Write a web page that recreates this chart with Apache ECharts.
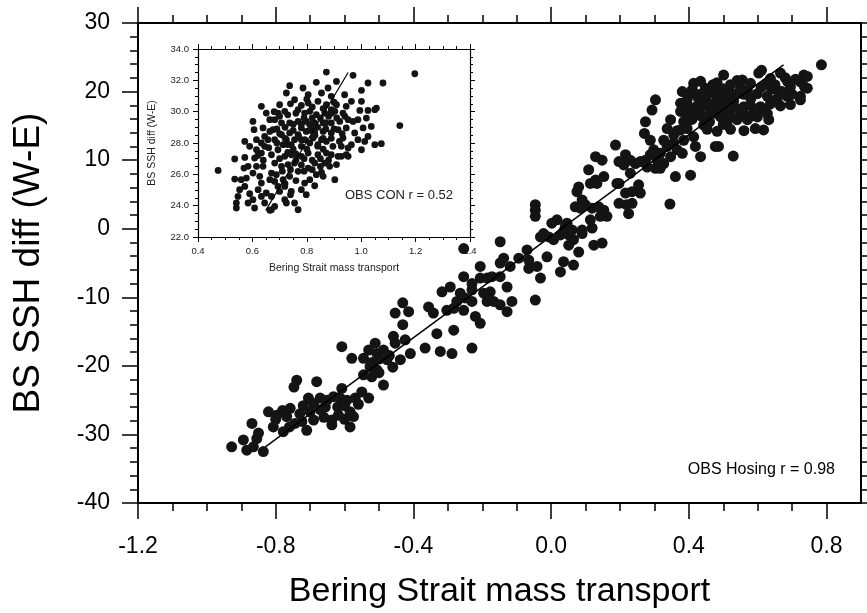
<!DOCTYPE html>
<html><head><meta charset="utf-8">
<script src="https://cdn.jsdelivr.net/npm/echarts@6/dist/echarts.min.js"></script>
<style>html,body{margin:0;padding:0;background:#fff}#c{width:867px;height:613px}</style>
</head><body><div id="c"></div>
<script>
// ---- main panel: OBS Hosing ----
const mainXMajor = [-1.2, -0.8, -0.4, 0.0, 0.4, 0.8];
const mainXMinor = [-1.1, -1.0, -0.9, -0.7, -0.6, -0.5, -0.3, -0.2, -0.1, 0.1, 0.2, 0.3, 0.5, 0.6, 0.7];
const mainXRange = [-1.2, 0.9];
const mainYRange = [-40, 30];
const hosingPoints = [
[-0.928,-31.8],[-0.894,-30.8],[-0.884,-32.3],[-0.865,-31.8],[-0.855,-30.6],[-0.836,-32.5],[-0.869,-28.4],[-0.850,-29.8],[-0.821,-26.7],[-0.807,-28.9],[-0.797,-27.2],[-0.778,-29.6],[-0.758,-26.2],[-0.768,-27.4],[-0.744,-28.4],[-0.724,-28.1],[-0.739,-22.1],[-0.747,-23.1],[-0.710,-29.4],[-0.700,-26.7],[-0.690,-27.9],[-0.705,-24.7],[-0.681,-22.3],[-0.671,-24.7],[-0.651,-25.0],[-0.656,-26.0],[-0.632,-24.5],[-0.637,-27.9],[-0.637,-28.6],[-0.618,-27.2],[-0.613,-24.7],[-0.608,-23.3],[-0.593,-25.0],[-0.584,-28.9],[-0.584,-26.7],[-0.574,-27.4],[-0.569,-24.7],[-0.550,-23.8],[-0.530,-24.7],[-0.487,-22.8],[-0.545,-21.3],[-0.521,-21.6],[-0.506,-20.6],[-0.526,-20.1],[-0.579,-18.9],[-0.608,-17.2],[-0.545,-18.9],[-0.530,-17.7],[-0.511,-16.7],[-0.506,-18.2],[-0.487,-17.7],[-0.477,-19.1],[-0.458,-15.7],[-0.453,-16.7],[-0.438,-19.1],[-0.424,-16.2],[-0.409,-18.2],[-0.366,-17.4],[-0.431,-14.0],[-0.453,-12.3],[-0.414,-12.1],[-0.431,-10.8],[-0.356,-11.4],[-0.342,-12.3],[-0.332,-15.3],[-0.322,-17.9],
[-0.80,-27.8],[-0.78,-26.5],[-0.76,-28.9],[-0.73,-27.0],[-0.72,-25.8],[-0.69,-25.5],[-0.67,-26.4],[-0.66,-27.5],[-0.62,-26.0],[-0.60,-25.8],[-0.56,-25.6],[-0.60,-27.8],[-0.52,-19.5],[-0.50,-21.0],[-0.47,-18.5],[-0.46,-20.2],[-0.50,-19.0],
[-0.254,-2.9],[-0.148,-1.9],[-0.206,-5.5],[-0.254,-7.0],[-0.230,-8.0],[-0.206,-7.2],[-0.186,-7.2],[-0.172,-7.0],[-0.148,-7.0],[-0.138,-4.3],[-0.119,-5.5],[-0.094,-4.3],[-0.070,-3.1],[-0.065,-4.6],[-0.065,-5.8],[-0.041,-5.5],[-0.031,-7.2],[-0.128,-8.5],[-0.177,-9.2],[-0.196,-9.4],[-0.186,-10.6],[-0.167,-10.6],[-0.148,-11.1],[-0.128,-12.1],[-0.114,-10.6],[-0.046,-10.4],[-0.230,-8.9],[-0.250,-10.1],[-0.230,-10.6],[-0.274,-10.6],[-0.264,-9.4],[-0.293,-8.5],[-0.317,-9.2],[-0.283,-11.6],[-0.254,-11.9],[-0.220,-12.8],[-0.206,-13.8],[-0.303,-11.9],[-0.283,-14.8],[-0.230,-17.4],[-0.288,-18.2],[-0.031,-1.2],[-0.022,-0.7],[-0.007,-1.2],[0.007,-1.6],[0.027,-0.9],[0.036,-0.4],[0.051,-0.9],[0.065,-1.6],[0.090,-0.7],[0.017,1.3],[0.041,0.3],[0.046,0.8],[0.061,-0.2],[-0.046,3.5],[-0.046,2.7],[-0.046,1.8],[-0.012,-4.1],[0.036,-4.8],[0.027,-6.3],[0.065,-5.3],[0.080,-3.4],[0.090,-0.2],[0.119,0.1],[0.124,-2.4],[0.148,-2.1],[0.085,3.0],[0.075,5.4],[0.080,6.1],[0.070,3.2],[0.099,3.5],[0.114,6.6],[0.133,6.6],[0.109,8.6],[0.129,10.5],[0.148,10.0],[0.187,12.2],[0.197,9.8],[0.119,3.0],[0.138,3.2],[0.153,2.7],[0.162,1.8],[0.114,1.3],[0.143,1.8],[0.090,4.2],[0.002,0.8],[0.051,-2.4],[-0.148,-5.0],
[0.501,22.4],[0.414,21.2],[0.381,20.0],[0.448,20.5],[0.472,20.0],[0.521,21.0],[0.555,21.7],[0.603,22.7],[0.637,21.9],[0.666,22.7],[0.734,22.4],[0.724,21.4],[0.744,20.5],[0.724,18.8],[0.686,19.3],[0.657,19.0],[0.628,19.3],[0.599,19.7],[0.570,20.2],[0.540,19.7],[0.511,19.0],[0.482,18.8],[0.453,18.5],[0.424,19.3],[0.395,18.8],[0.376,18.3],[0.303,18.8],[0.293,17.3],[0.376,17.1],[0.405,17.3],[0.434,17.6],[0.463,17.3],[0.492,16.3],[0.511,15.6],[0.540,15.9],[0.570,15.9],[0.599,16.3],[0.632,15.9],[0.628,16.8],[0.593,14.6],[0.560,17.8],[0.531,17.8],[0.608,17.8],[0.657,20.2],[0.695,20.7],[0.579,21.2],[0.347,15.9],[0.337,14.6],[0.274,15.6],[0.271,13.9],[0.385,15.6],[0.395,14.6],[0.443,15.1],[0.414,13.4],[0.385,12.9],[0.327,12.9],[0.356,12.5],[0.477,12.0],[0.529,10.6],[0.419,12.0],[0.434,10.5],[0.405,7.8],[0.361,7.6],[0.345,3.6],[0.381,11.0],[0.366,11.5],[0.347,10.5],[0.317,11.0],[0.308,10.0],[0.288,10.8],[0.274,10.0],[0.259,9.8],[0.245,9.5],[0.230,10.0],[0.216,10.8],[0.211,9.3],[0.230,8.1],[0.254,6.4],[0.259,5.2],[0.235,5.4],[0.219,3.5],[0.225,2.2],[0.197,6.6],[0.303,8.8],[0.327,9.5],[0.288,12.9],[0.356,13.7],[0.191,6.6],[0.216,5.2],[0.197,3.7],[0.235,3.7],[0.129,7.1],[0.153,7.6],
[0.434,21.5],[0.482,21.3],[0.540,21.6],[0.628,21.2],[0.686,21.5],[0.395,18.1],[0.424,17.9],[0.453,18.2],[0.482,17.8],[0.501,18.1],[0.579,18.0],[0.637,18.2],[0.666,17.9],[0.695,18.1],[0.395,16.5],[0.424,16.7],[0.453,16.4],[0.482,16.8],[0.521,16.5],[0.560,16.7],[0.579,16.4],[0.405,19.8],[0.434,19.6],[0.463,19.8],[0.492,19.5],[0.521,19.8],[0.560,19.6],[0.366,14.3],[0.453,14.5],[0.482,14.2],[0.521,14.5],[0.560,14.3],[0.617,14.4],[0.298,11.5],[0.337,12.0],[0.279,9.0],[0.317,8.8],[0.376,14.4],[0.405,15.9],[0.439,16.3],
[0.41,20.3],[0.44,19.0],[0.47,21.0],[0.50,20.4],[0.53,18.6],[0.55,20.5],[0.58,19.0],[0.61,20.6],[0.64,20.4],[0.67,20.0],[0.70,19.6],[0.62,17.2],[0.59,17.3],[0.55,17.0],[0.51,17.4],[0.47,17.9],[0.44,18.3],[0.41,16.0],[0.46,15.6],[0.50,15.2],[0.65,21.0],[0.71,21.8],[0.68,22.0],
[0.785,23.9],[0.744,22.2],[0.736,20.7],[0.724,19.3],[0.486,12.0],[0.611,23.1]
];
const hosingFit = [[-0.83, -31.8], [0.675, 23.9]];

// ---- inset panel: OBS CON ----
const insetXRange = [0.4, 1.4];
const insetYRange = [22, 34];
const conPoints = [
[0.474,26.25],[1.197,32.42],[1.142,29.11],[1.080,31.83],[1.025,31.83],[0.970,32.32],[0.872,32.53],[0.909,31.93],[0.835,31.87],[0.737,31.66],[0.786,31.51],[0.878,31.51],[1.001,31.36],[1.056,30.23],[1.050,30.13],[1.025,30.08],[1.074,27.96],[1.050,27.89],[0.952,27.68],[0.952,27.15],[0.915,27.15],[0.903,25.66],[0.854,26.13],[0.860,25.87],[0.829,25.27],[0.798,24.70],[0.768,23.74],[0.755,24.17],[0.670,23.74],[0.664,23.70],[0.608,23.85],[0.541,23.85],[0.541,24.17],[0.547,24.59],[0.584,24.17],[0.590,24.76],[0.572,25.23],[0.535,25.70],[0.569,26.40],[0.535,26.98],[0.572,27.08],[0.608,27.04],[0.615,26.51],[0.621,25.02],[0.651,24.81],[0.670,24.59],[0.719,24.38],[0.694,25.23],[0.719,25.23],[0.743,24.91],[0.572,28.10],[0.590,27.79],[0.606,28.85],[0.602,29.38],[0.639,28.96],[0.645,28.42],[0.645,27.79],[0.633,27.36],[0.639,26.51],[0.670,26.08],[0.664,25.66],[0.688,25.98],[0.713,25.66],[0.737,25.87],[0.700,30.44],[0.694,29.91],[0.719,30.02],[0.725,31.19],[0.755,30.76],[0.768,30.13],[0.805,30.55],[0.811,30.02],[0.841,30.66],[0.872,30.44],[0.890,30.98],[0.939,31.08],[0.964,30.66],[1.001,30.66],[0.995,30.08],[0.988,29.49],[1.007,28.96],[0.970,29.38],[0.976,28.64],[0.988,28.21],[0.933,28.32],[0.927,27.79],[0.890,27.25],[0.866,26.72],[0.829,26.72],[0.805,26.40],[0.768,26.19],[0.755,26.72],[0.731,26.62],[0.707,26.51],[0.682,26.72],[0.670,27.25],[0.694,27.57],[0.719,27.15],[0.743,27.25],[0.780,27.15],[0.805,27.36],[0.841,27.25],[0.872,27.36],[0.896,27.79],[0.872,28.10],[0.841,27.89],[0.811,28.00],[0.780,27.79],[0.743,27.89],[0.713,27.89],[0.682,28.21],[0.676,28.85],[0.707,28.53],[0.737,28.64],[0.768,28.53],[0.798,28.74],[0.829,28.64],[0.860,28.74],[0.890,28.64],[0.915,28.85],[0.945,28.96],[0.952,29.49],[0.921,29.38],[0.890,29.28],[0.860,29.28],[0.829,29.28],[0.798,29.38],[0.768,29.38],[0.737,29.28],[0.707,29.28],[0.682,29.49],[0.792,29.91],[0.835,29.81],[0.866,29.91],[0.903,30.02],[0.933,29.91],[0.909,30.44],[0.945,30.34],[0.780,28.96],[0.817,28.96],[0.854,28.21],[0.823,28.32],[0.792,28.21],[0.755,28.21],[0.725,28.21],[0.657,28.21],[0.664,29.49],[0.651,29.91],[0.633,30.34],[0.805,31.08],[0.854,31.19],[0.890,30.13],[0.664,28.74],[0.615,28.21],[0.633,28.00],[0.615,27.57],[0.584,26.51],[0.602,26.08],[0.627,25.87],[0.633,25.44],[0.682,25.55],[0.700,24.91],[0.682,23.95],[0.725,24.17],[0.602,24.38],[0.553,25.02],[0.559,25.66],[0.578,25.76],[0.633,24.59],[0.645,24.17],[0.792,25.44],[0.780,25.02],[0.811,25.66],[0.835,25.98],[0.884,26.51],[0.909,26.62],[0.927,27.15],[0.945,27.25],[0.964,27.89],[1.013,28.10],[1.025,28.42],[1.019,29.59],[1.037,29.06],[1.001,27.57],
[0.70,29.7],[0.73,29.8],[0.76,29.9],[0.79,29.6],[0.82,29.6],[0.85,29.6],[0.88,29.7],[0.91,29.6],[0.94,29.7],[0.69,28.9],[0.72,29.0],[0.75,28.8],[0.78,29.2],[0.81,28.8],[0.84,29.0],[0.87,28.9],[0.90,28.9],[0.93,28.6],[0.69,28.0],[0.72,28.3],[0.75,27.6],[0.77,28.4],[0.80,27.6],[0.83,28.5],[0.86,27.6],[0.89,28.3],[0.92,28.1],[0.70,27.0],[0.73,27.4],[0.76,26.9],[0.79,27.0],[0.82,26.9],[0.85,27.0],[0.88,26.9],[0.71,26.2],[0.74,26.3],[0.78,26.6],[0.82,26.3],[0.85,26.5],[0.72,25.4],[0.76,25.6],[0.74,24.7],[0.78,30.4],[0.82,30.3],[0.86,30.2],[0.74,30.5],[0.90,30.6],[0.68,30.0],[0.66,27.7],[0.64,26.9],[0.62,27.2],
[0.75,29.2],[0.81,29.2],[0.87,29.3],[0.78,28.2],[0.84,27.8],[0.73,27.9],[0.79,26.2],[0.76,27.3],[0.86,28.3],[0.70,28.6],[0.89,29.9],[0.80,30.8]
];
const conFit = [[0.649, 23.7], [0.952, 32.5]];

const FONT = '"Liberation Sans", Arial, Helvetica, sans-serif';
const INK = '#000';

function axisDef(grid, pos, range, opts) {
  return Object.assign({
    type: 'value', gridIndex: grid, position: pos, min: range[0], max: range[1],
    splitLine: { show: false }, nameMoveOverlap: false,
    axisLine: { show: true, onZero: false, lineStyle: { color: INK, width: 2 } },
    axisTick: { show: true, inside: false, lineStyle: { color: INK, width: 1.5 } },
    axisLabel: { show: false }
  }, opts);
}

const chart = echarts.init(document.getElementById('c'), null, { renderer: 'canvas' });
chart.setOption({
  backgroundColor: '#fff',
  animation: false,
  grid: [
    { left: 138, top: 23, right: 6, bottom: 110, containLabel: false, outerBoundsMode: 'none' },
    { left: 198, top: 49, right: 397, bottom: 376, containLabel: false, outerBoundsMode: 'none',
      show: true, backgroundColor: '#fff', borderWidth: 0 }
  ],
  xAxis: [
    axisDef(0, 'bottom', mainXRange, {
      axisTick: { show: true, length: 16, customValues: mainXMajor, lineStyle: { color: INK, width: 1.5 } },
      axisLabel: { show: true, customValues: mainXMajor, fontSize: 23, fontFamily: FONT, color: INK, margin: 32,
        formatter: v => v.toFixed(1) },
      name: 'Bering Strait mass transport', nameLocation: 'middle', nameGap: 72,
      nameTextStyle: { fontSize: 34, fontFamily: FONT, color: INK }
    }),
    axisDef(0, 'bottom', mainXRange, {
      axisLine: { show: false, onZero: false },
      axisTick: { show: true, length: 8, customValues: mainXMinor, lineStyle: { color: INK, width: 1.5 } }
    }),
    axisDef(0, 'top', mainXRange, {
      axisTick: { show: true, length: 16, customValues: mainXMajor, lineStyle: { color: INK, width: 1.5 } }
    }),
    axisDef(0, 'top', mainXRange, {
      axisLine: { show: false, onZero: false },
      axisTick: { show: true, length: 8, customValues: mainXMinor, lineStyle: { color: INK, width: 1.5 } }
    }),
    axisDef(1, 'bottom', insetXRange, {
      interval: 0.2,
      axisLine: { show: true, onZero: false, lineStyle: { color: INK, width: 1.2 } },
      axisTick: { show: true, length: 5, lineStyle: { color: INK, width: 1 } },
      minorTick: { show: true, splitNumber: 4, length: 3, lineStyle: { color: INK, width: 1 } },
      axisLabel: { show: true, fontSize: 9.5, fontFamily: FONT, color: '#222', margin: 9,
        formatter: v => v.toFixed(1) },
      name: 'Bering Strait mass transport', nameLocation: 'middle', nameGap: 26,
      nameTextStyle: { fontSize: 10.5, fontFamily: FONT, color: '#222' }
    }),
    axisDef(1, 'top', insetXRange, {
      interval: 0.2,
      axisLine: { show: true, onZero: false, lineStyle: { color: INK, width: 1.2 } },
      axisTick: { show: true, length: 5, lineStyle: { color: INK, width: 1 } },
      minorTick: { show: true, splitNumber: 4, length: 3, lineStyle: { color: INK, width: 1 } }
    })
  ],
  yAxis: [
    axisDef(0, 'left', mainYRange, {
      interval: 10,
      axisTick: { show: true, length: 16, lineStyle: { color: INK, width: 1.5 } },
      minorTick: { show: true, splitNumber: 5, length: 8, lineStyle: { color: INK, width: 1.5 } },
      axisLabel: { show: true, fontSize: 23, fontFamily: FONT, color: INK, margin: 28 },
      name: 'BS SSH diff (W-E)', nameLocation: 'middle', nameGap: 91,
      nameTextStyle: { fontSize: 37, fontFamily: FONT, color: INK }
    }),
    axisDef(0, 'right', mainYRange, {
      interval: 10,
      axisTick: { show: true, length: 8, lineStyle: { color: INK, width: 1.5 } },
      minorTick: { show: true, splitNumber: 5, length: 6, lineStyle: { color: INK, width: 1.5 } }
    }),
    axisDef(1, 'left', insetYRange, {
      interval: 2,
      axisLine: { show: true, onZero: false, lineStyle: { color: INK, width: 1.2 } },
      axisTick: { show: true, length: 5, lineStyle: { color: INK, width: 1 } },
      minorTick: { show: true, splitNumber: 4, length: 3, lineStyle: { color: INK, width: 1 } },
      axisLabel: { show: true, fontSize: 9.5, fontFamily: FONT, color: '#222', margin: 9,
        formatter: v => v.toFixed(1) },
      name: 'BS SSH diff (W-E)', nameLocation: 'middle', nameGap: 40,
      nameTextStyle: { fontSize: 10.5, fontFamily: FONT, color: '#222' }
    }),
    axisDef(1, 'right', insetYRange, {
      interval: 2,
      axisLine: { show: true, onZero: false, lineStyle: { color: INK, width: 1.2 } },
      axisTick: { show: true, length: 5, lineStyle: { color: INK, width: 1 } },
      minorTick: { show: true, splitNumber: 4, length: 3, lineStyle: { color: INK, width: 1 } }
    })
  ],
  series: [
    { type: 'scatter', xAxisIndex: 0, yAxisIndex: 0, data: hosingPoints, symbol: 'circle', symbolSize: 11,
      itemStyle: { color: '#141414', opacity: 1 }, z: 3 },
    { type: 'line', xAxisIndex: 0, yAxisIndex: 0, data: hosingFit, symbol: 'none',
      lineStyle: { color: '#000', width: 1.5 }, z: 4 },
    { type: 'scatter', xAxisIndex: 4, yAxisIndex: 2, data: conPoints, symbol: 'circle', symbolSize: 6.8,
      itemStyle: { color: '#141414', opacity: 1 }, z: 3 },
    { type: 'line', xAxisIndex: 4, yAxisIndex: 2, data: conFit, symbol: 'none',
      lineStyle: { color: '#000', width: 1.2 }, z: 4 }
  ],
  graphic: [
    { type: 'text', x: 835, y: 470, z: 10,
      style: { text: 'OBS Hosing r = 0.98', fontSize: 16, fontFamily: FONT, fill: INK, align: 'right', verticalAlign: 'middle' } },
    { type: 'text', x: 453, y: 195, z: 10,
      style: { text: 'OBS CON r = 0.52', fontSize: 13, fontFamily: FONT, fill: '#222', align: 'right', verticalAlign: 'middle' } }
  ]
});
</script>
</body></html>
